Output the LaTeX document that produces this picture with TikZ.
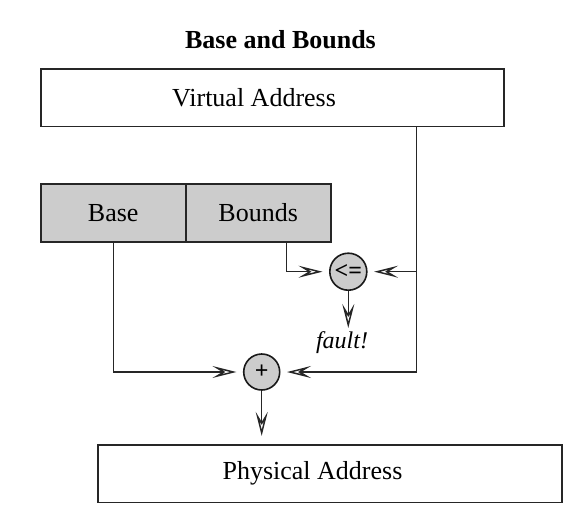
\documentclass[tikz,border=0pt]{standalone}
\usepackage{fontspec}
\setmainfont{Liberation Serif}
\usetikzlibrary{arrows.meta,calc}
\begin{document}
\begin{tikzpicture}[x=1pt,y=-1pt,
  box/.style={draw=black!85,line width=1.6pt,inner sep=0pt,minimum height=57.6pt},
  regbox/.style={box,fill=black!20},
  op/.style={circle,draw=black!90,line width=1.6pt,fill=black!20,inner sep=0pt,font=\fontsize{24}{24}\selectfont\bfseries},
  big/.style={font=\fontsize{26}{30}\selectfont},
  conn/.style={draw=black!85,line width=1.2pt},
  arr/.style={conn,-{Stealth[open,length=24pt,width=12pt,inset=10pt,line width=1.5pt]},shorten >=6.5pt}
]
\useasboundingbox (0,0) rectangle (564,506);

\node[font=\fontsize{26}{30}\selectfont\bfseries] (title) at (280.5,40) {Base and Bounds};

\node[box,minimum width=463.3pt,big,label={[big,xshift=-18.3pt]center:Virtual Address}] (va) at (272.35,97.5) {};

\node[regbox,minimum width=145pt,big] (base) at (113.2,213) {Base};
\node[regbox,minimum width=145pt,big] (bounds) at (258.2,213) {Bounds};

\node[op,minimum size=37pt] (le) at (348.3,271.7) {<=};
\node[op,minimum size=36pt] (plus) at (261.7,372) {+};

\node[font=\fontsize{24}{28}\selectfont\itshape] (fault) at (342,343) {fault!};

\node[box,minimum width=464pt,big,label={[big,xshift=-17.5pt]center:Physical Address}] (pa) at (330,473.5) {};

\coordinate (j1) at (416.7,271.7);
\coordinate (j2) at (416.7,372);
\coordinate (b1) at (286.7,271.7);
\coordinate (ftip) at (348.3,328);

\draw[conn] (va.south -| j1) -- (j1);
\draw[arr] (j1) -- (j2) -- (plus);
\draw[arr] (j1) -- (le);
\draw[arr] (bounds.south -| b1) -- (b1) -- (le);
\draw[arr] (base.south) -- (base.south |- plus) -- (plus);
\draw[arr,shorten >=0pt] (le) -- (ftip);
\draw[arr,shorten >=8pt] (plus) -- (plus |- pa.north);
\end{tikzpicture}
\end{document}
